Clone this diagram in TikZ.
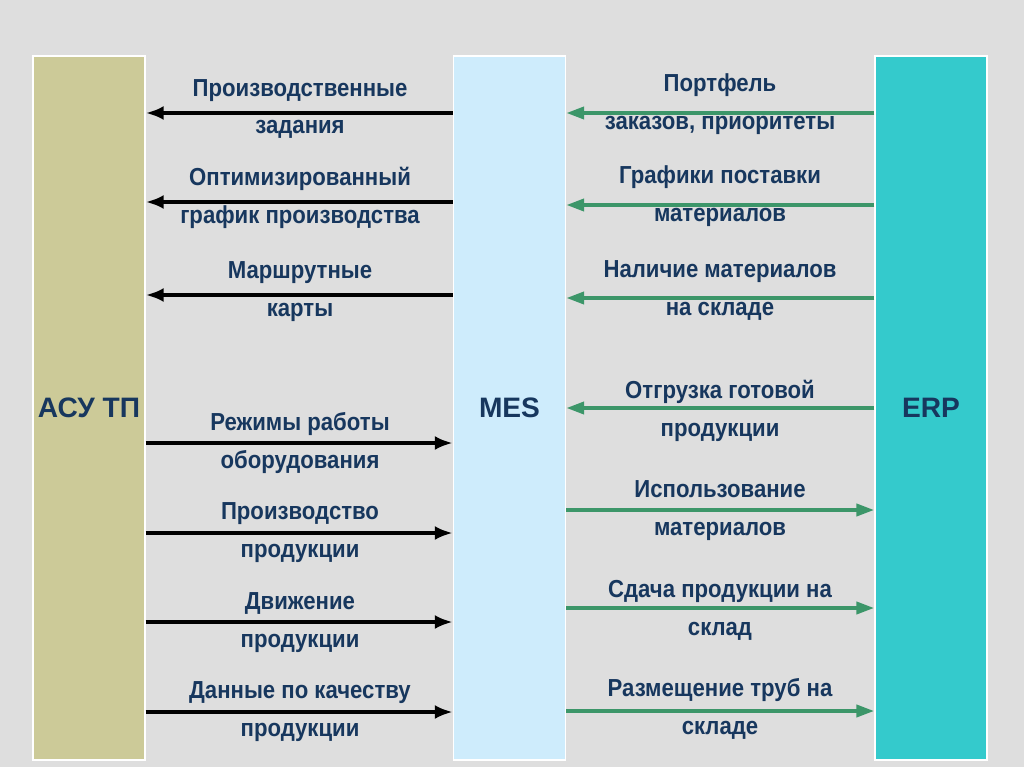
\documentclass[tikz,border=0pt]{standalone}
\usepackage{fontspec}
\setmainfont{Liberation Sans}
\newfontfamily\lblfont[FakeStretch=0.9]{Liberation Sans Bold}
\newfontfamily\ttlfont{Liberation Sans Bold}
\usetikzlibrary{arrows.meta}
\definecolor{bgray}{RGB}{222,222,222}
\definecolor{acsfill}{RGB}{204,202,152}
\definecolor{mesfill}{RGB}{206,236,252}
\definecolor{erpfill}{RGB}{52,202,204}
\definecolor{navy}{RGB}{23,55,94}
\definecolor{flowgreen}{RGB}{60,150,105}
\tikzset{
  sysbox/.style={draw=white,line width=1pt,minimum width=2.8cm,minimum height=17.6cm,inner sep=0pt},
  ttl/.style={text=navy,font=\ttlfont\fontsize{20}{24}\selectfont},
  lbl/.style={text=navy,align=center,font=\lblfont\fontsize{17.5}{27}\selectfont,inner sep=0pt},
  blk/.style={-{Latex[length=4.5mm,width=3.5mm]},line width=3.2pt,black},
  grn/.style={-{Triangle[length=4.5mm,width=3mm]},line width=2.8pt,flowgreen}
}
\begin{document}
\begin{tikzpicture}[x=0.025cm,y=-0.025cm]
\fill[bgray] (0,0) rectangle (1024,767);
\useasboundingbox (0,0) rectangle (1024,767);
% three systems
\node[sysbox,fill=acsfill] (acs) at (89,408) {};
\node[sysbox,fill=mesfill] (mes) at (509.5,408) {};
\node[sysbox,fill=erpfill] (erp) at (931,408) {};
\node[ttl] (acst) at (89,408) {АСУ ТП};
\node[ttl] (mest) at (509.5,408) {MES};
\node[ttl] (erpt) at (931,408) {ERP};
% MES -> ASU TP
\node[lbl] (l1) at (300,109) {Производственные\\задания};
\node[lbl] (l2) at (300,198) {Оптимизированный\\график производства};
\node[lbl] (l3) at (300,292) {Маршрутные\\карты};
\coordinate (a1) at (300,113);
\coordinate (a2) at (300,202);
\coordinate (a3) at (300,295);
\draw[blk] (mes.west |- a1) -- (acs.east |- a1);
\draw[blk] (mes.west |- a2) -- (acs.east |- a2);
\draw[blk] (mes.west |- a3) -- (acs.east |- a3);
% ASU TP -> MES
\node[lbl] (l4) at (300,443) {Режимы работы\\оборудования};
\node[lbl] (l5) at (300,533) {Производство\\продукции};
\node[lbl] (l6) at (300,622.5) {Движение\\продукции};
\node[lbl] (l7) at (300,712) {Данные по качеству\\продукции};
\coordinate (a4) at (300,443);
\coordinate (a5) at (300,533);
\coordinate (a6) at (300,622);
\coordinate (a7) at (300,712);
\draw[blk] (acs.east |- a4) -- (mes.west |- a4);
\draw[blk] (acs.east |- a5) -- (mes.west |- a5);
\draw[blk] (acs.east |- a6) -- (mes.west |- a6);
\draw[blk] (acs.east |- a7) -- (mes.west |- a7);
% ERP -> MES
\node[lbl] (r1) at (720,104) {Портфель\\заказов, приоритеты};
\node[lbl] (r2) at (720,196.5) {Графики поставки\\материалов};
\node[lbl] (r3) at (720,290.5) {Наличие материалов\\на складе};
\node[lbl] (r4) at (720,410.5) {Отгрузка готовой\\продукции};
\coordinate (b1) at (720,113);
\coordinate (b2) at (720,205);
\coordinate (b3) at (720,298);
\coordinate (b4) at (720,408);
\draw[grn] (erp.west |- b1) -- (mes.east |- b1);
\draw[grn] (erp.west |- b2) -- (mes.east |- b2);
\draw[grn] (erp.west |- b3) -- (mes.east |- b3);
\draw[grn] (erp.west |- b4) -- (mes.east |- b4);
% MES -> ERP
\node[lbl] (r5) at (720,510.5) {Использование\\материалов};
\node[lbl] (r6) at (720,610) {Сдача продукции на\\склад};
\node[lbl] (r7) at (720,708.5) {Размещение труб на\\складе};
\coordinate (b5) at (720,510);
\coordinate (b6) at (720,608);
\coordinate (b7) at (720,711);
\draw[grn] (mes.east |- b5) -- (erp.west |- b5);
\draw[grn] (mes.east |- b6) -- (erp.west |- b6);
\draw[grn] (mes.east |- b7) -- (erp.west |- b7);
\end{tikzpicture}
\end{document}
